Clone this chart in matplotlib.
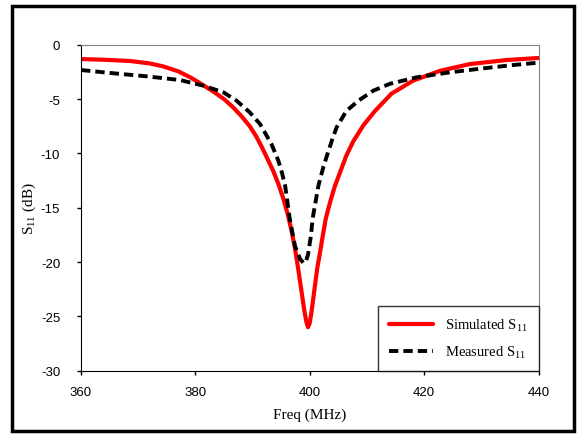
import matplotlib
matplotlib.use("Agg")
import matplotlib.pyplot as plt
from matplotlib.patches import Rectangle

plt.rcParams["mathtext.fontset"] = "custom"
plt.rcParams["mathtext.rm"] = "Liberation Serif"
plt.rcParams["mathtext.it"] = "Liberation Serif:italic"
plt.rcParams["axes.unicode_minus"] = False

sim_freq = [360, 364, 368.6, 372, 374.4, 377, 379.1, 381, 383.1, 385, 386.6, 388.1, 389.5,
            390.6, 391.6, 392.6, 393.6, 394.5, 395.4, 396.2, 396.8, 397.4, 398.0, 398.5,
            399.0, 399.4, 399.7, 400.0, 400.3, 400.9, 401.3, 401.8, 402.3, 402.8, 403.6,
            404.4, 405.4, 406.4, 407.6, 409.4, 411.4, 414.3, 418.1, 422.8, 428.0, 434.4, 440]
sim_s11 = [-1.32, -1.38, -1.5, -1.72, -2.0, -2.45, -3.0, -3.6, -4.3, -5.0, -5.76, -6.6, -7.5,
           -8.4, -9.4, -10.5, -11.6, -12.8, -14.2, -15.7, -17.1, -18.7, -20.7, -22.5,
           -24.3, -25.5, -26.0, -25.6, -24.6, -22.2, -20.6, -19.1, -17.5, -16.0, -14.4,
           -13.0, -11.6, -10.2, -8.9, -7.4, -6.1, -4.5, -3.3, -2.4, -1.78, -1.41, -1.22]

meas_freq = [360, 365.7, 371.5, 377.3, 381.4, 384.9, 387.2, 389.5, 391.3, 393.3, 394.5,
             395.1, 395.7, 396.5, 397.4, 398.3, 398.9, 399.3, 399.7, 400.2, 400.5, 401.5,
             402.4, 403.2, 404.0, 404.7, 406.4, 408.5, 411.1, 414.0, 418.7, 424.5, 430.9,
             435.0, 440]
meas_s11 = [-2.33, -2.63, -2.91, -3.25, -3.77, -4.38, -5.15, -6.22, -7.3, -9.14, -10.67,
            -11.7, -13.0, -16.0, -18.5, -19.7, -20.1, -20.0, -19.3, -17.6, -16.0, -13.0,
            -11.2, -9.9, -8.6, -7.6, -6.1, -5.15, -4.23, -3.6, -3.0, -2.54, -2.14,
            -1.9, -1.65]

xticks = [360, 380, 400, 420, 440]
yticks = [0, -5, -10, -15, -20, -25, -30]

fig = plt.figure(figsize=(5.77, 4.35), dpi=100)
ax = fig.add_axes([0.1404, 0.1455, 0.9333 - 0.1404, 0.8949 - 0.1455])

ax.plot(sim_freq, sim_s11, color="#ff0000", lw=3.0, solid_capstyle="round",
        solid_joinstyle="round", label="Simulated S$_{11}$")
ax.plot(meas_freq, meas_s11, color="black", lw=2.8, linestyle=(0, (2.4, 1.3)),
        label="Measured S$_{11}$")

ax.set_xlim(360, 440)
ax.set_ylim(-30, 0)
ax.set_xticks(xticks)
ax.set_yticks(yticks)
ax.tick_params(axis="y", direction="out", length=3, width=1, labelsize=9.5, pad=12)
ax.tick_params(axis="x", direction="out", length=3, width=1, labelsize=9.5, pad=8)
for lab in ax.get_xticklabels() + ax.get_yticklabels():
    lab.set_fontfamily("Liberation Sans")

for s in ["top", "right"]:
    ax.spines[s].set_color("#808080")
for s in ["left", "bottom"]:
    ax.spines[s].set_color("black")

ax.set_xlabel("Freq (MHz)", fontfamily="Liberation Serif", fontsize=11, labelpad=7)
ax.set_ylabel("S$_{11}$ (dB)", fontfamily="Liberation Serif", fontsize=11, labelpad=2)

leg = ax.legend(loc="lower right", prop={"family": "Liberation Serif", "size": 10.5},
                frameon=True, fancybox=False, edgecolor="black", borderpad=0.75,
                handlelength=3.0, handletextpad=0.8, labelspacing=0.7, borderaxespad=0.0)
leg.get_frame().set_linewidth(1.0)

fig.patches.append(Rectangle((12 / 577, 1 - 432 / 435), (574 - 12) / 577, (432 - 7) / 435,
                             transform=fig.transFigure, fill=False, edgecolor="black",
                             linewidth=2.5))

fig.savefig("out.png", dpi=100)
